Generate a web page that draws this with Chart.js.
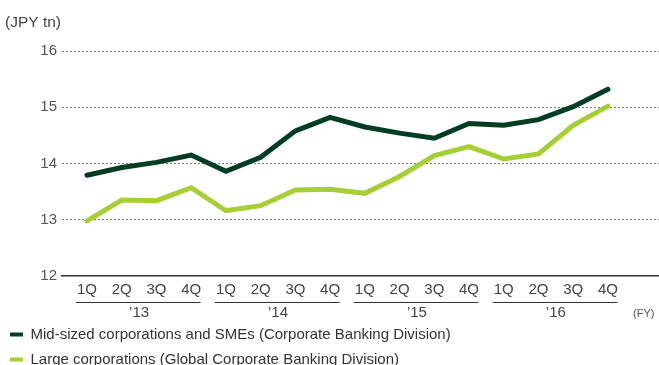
<!DOCTYPE html>
<html><head><meta charset="utf-8">
<script src="https://cdn.jsdelivr.net/npm/chart.js@4.4.0/dist/chart.umd.min.js"></script>
<style>
html,body{margin:0;padding:0;background:#fff;overflow:hidden;}
#wrap{width:659px;height:377px;position:relative;}
</style></head><body>
<div id="wrap"><canvas id="c" width="659" height="377"></canvas></div>
<script>
const quarters = ["1Q","2Q","3Q","4Q","1Q","2Q","3Q","4Q","1Q","2Q","3Q","4Q","1Q","2Q","3Q","4Q"];
const years = ["’13","’14","’15","’16"];
const yTicks = [12,13,14,15,16];
const midSized = [13.79,13.93,14.02,14.15,13.86,14.11,14.58,14.82,14.65,14.54,14.45,14.71,14.68,14.78,15.01,15.32];
const large = [12.98,13.35,13.34,13.57,13.16,13.25,13.53,13.54,13.47,13.77,14.14,14.30,14.08,14.17,14.68,15.02];
const seriesNames = ["Mid-sized corporations and SMEs (Corporate Banking Division)","Large corporations (Global Corporate Banking Division)"];
const unitLabel = "(JPY tn)";
const fyLabel = "(FY)";
const colors = ["#003d22","#a6cf36"];

const FONT = "'Liberation Sans', Arial, sans-serif";
const toXY = arr => arr.map((v,i)=>({x:i,y:v}));

const decor = {
  id:'decor',
  afterDraw(chart){
    const ctx = chart.ctx;
    const x = chart.scales.x, x2 = chart.scales.x2;
    ctx.save();
    ctx.strokeStyle = '#333';
    ctx.lineWidth = 1;
    years.forEach((y,k)=>{
      const s = x.getPixelForValue(k*4-0.32), e = x.getPixelForValue(k*4+3.27);
      const yy = x2.top + 3.5;
      ctx.beginPath(); ctx.moveTo(s,yy); ctx.lineTo(e,yy); ctx.stroke();
    });
    ctx.fillStyle = '#555';
    ctx.font = "11px " + FONT;
    ctx.textAlign='left'; ctx.textBaseline='middle';
    ctx.fillText(fyLabel, 633, x2.top + 15);
    ctx.fillStyle = '#444';
    ctx.font = "15.5px " + FONT;
    ctx.fillText(unitLabel, 5, 23);
    ctx.restore();
  }
};

new Chart(document.getElementById('c'), {
  type:'line',
  data:{datasets:[
    {label:seriesNames[0],data:toXY(midSized),borderColor:colors[0],backgroundColor:colors[0],borderWidth:5,pointRadius:0,tension:0,borderCapStyle:'round',borderJoinStyle:'miter'},
    {label:seriesNames[1],data:toXY(large),borderColor:colors[1],backgroundColor:colors[1],borderWidth:5,pointRadius:0,tension:0,borderCapStyle:'round',borderJoinStyle:'miter'}
  ]},
  options:{
    responsive:false,animation:false,
    layout:{padding:{left:0,right:0,top:51,bottom:0}},
    plugins:{
      title:{display:false},
      legend:{position:'bottom',align:'start',labels:{boxWidth:13,boxHeight:4,padding:10,color:'#333',font:{family:FONT,size:15},
        generateLabels(chart){return chart.data.datasets.map((d,i)=>({text:d.label,fillStyle:d.borderColor,strokeStyle:d.borderColor,lineWidth:0,datasetIndex:i,fontColor:'#333'}));}}},
      tooltip:{enabled:false}
    },
    scales:{
      x:{type:'linear',min:-0.72,max:16.47,position:'bottom',
        afterBuildTicks(s){s.ticks=quarters.map((q,i)=>({value:i}));},
        afterFit(s){s.height=23;},
        ticks:{callback:(v)=>quarters[v]??'',color:'#444',font:{family:FONT,size:15},padding:5,maxRotation:0,autoSkip:false},
        grid:{display:false,drawTicks:false},
        border:{display:true,color:'#333',width:1.5}
      },
      x2:{type:'linear',min:-0.72,max:16.47,position:'bottom',
        afterBuildTicks(s){s.ticks=years.map((y,k)=>({value:k*4+1.5}));},
        afterFit(s){s.height=18;},
        ticks:{callback:(v)=>years[(v-1.5)/4]??'',color:'#444',font:{family:FONT,size:15},padding:5,maxRotation:0,autoSkip:false},
        grid:{display:false,drawTicks:false},
        border:{display:false}
      },
      y:{min:12,max:16,
        afterBuildTicks(s){s.ticks=yTicks.map(v=>({value:v}));},
        afterFit(s){s.width=62;},
        ticks:{color:'#555',font:{family:FONT,size:15},padding:5},
        grid:{color:(c)=>c.tick&&c.tick.value===12?'rgba(0,0,0,0)':'#777',lineWidth:1,drawTicks:false},
        border:{display:false,dash:[2,2]}
      }
    }
  },
  plugins:[decor]
});
</script>
</body></html>
